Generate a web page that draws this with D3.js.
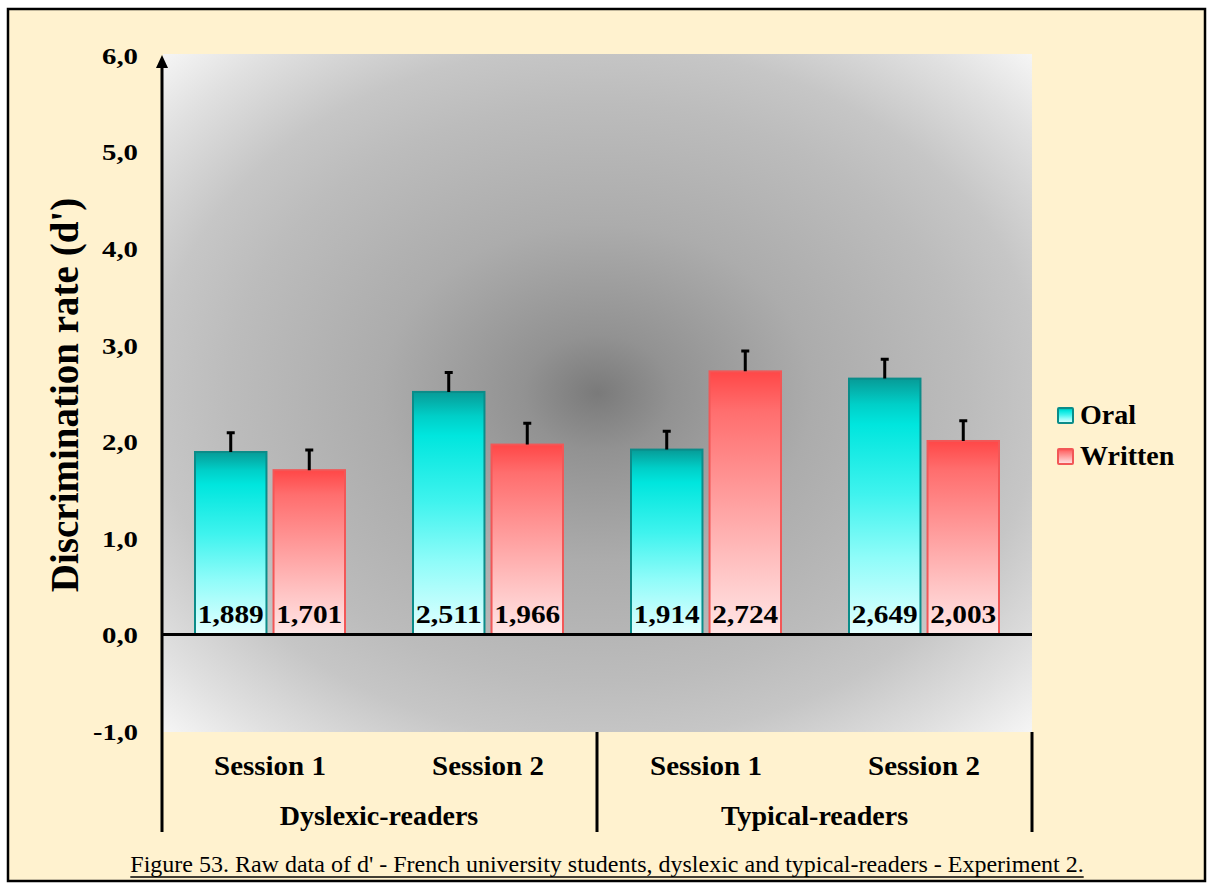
<!DOCTYPE html>
<html>
<head>
<meta charset="utf-8">
<script src="https://cdn.jsdelivr.net/npm/d3@7"></script>
<style>
  html, body { margin: 0; padding: 0; background: #ffffff; }
  svg { display: block; }
  text { font-family: "Liberation Serif", "Times New Roman", serif; }
</style>
</head>
<body>
<svg id="chart" width="1213" height="889"></svg>
<script>
// ---- data ----
const sessions = ["Session 1", "Session 2", "Session 1", "Session 2"];
const groups = ["Dyslexic-readers", "Typical-readers"];
const seriesNames = ["Oral", "Written"];
const oralValues = [1.889, 2.511, 1.914, 2.649];
const writtenValues = [1.701, 1.966, 2.724, 2.003];
const oralErrors = [0.20, 0.20, 0.19, 0.20];
const writtenErrors = [0.21, 0.22, 0.21, 0.21];
const yTicks = [-1, 0, 1, 2, 3, 4, 5, 6];
const yTitle = "Discrimination rate (d')";
const caption = "Figure 53. Raw data of d' - French university students, dyslexic and typical-readers - Experiment 2.";

const svg = d3.select("#chart");

// background + frame
svg.append("rect").attr("x", 8).attr("y", 9).attr("width", 1197).attr("height", 872)
  .attr("fill", "#fff2cf").attr("stroke", "#000").attr("stroke-width", 2.5);

const plot = { left: 162, right: 1032, top: 55, bottom: 731 };

const y = d3.scaleLinear().domain([-1, 6]).range([plot.bottom, plot.top]);
const x0 = d3.scaleBand().domain(d3.range(sessions.length)).range([161, 1033]).padding(0);
const x1 = d3.scaleBand().domain(seriesNames).range([-75, 75]).paddingInner(0.09);

const defs = svg.append("defs");
const bg = defs.append("radialGradient").attr("id", "bgGrad")
  .attr("cx", "50%").attr("cy", "50%").attr("r", "71%");
[[0, "#7a7a7a"], [0.12, "#929292"], [0.35, "#acacac"], [0.6, "#bcbcbc"], [0.72, "#c6c6c6"], [0.88, "#e0e0e0"], [1, "#f6f6f6"]]
  .forEach(s => bg.append("stop").attr("offset", s[0]).attr("stop-color", s[1]));

const gOral = defs.append("linearGradient").attr("id", "gOral").attr("x1", 0).attr("y1", 0).attr("x2", 0).attr("y2", 1);
[[0, "#079b97"], [0.1, "#00cfc8"], [0.18, "#00e6de"], [0.45, "#3ff3ee"], [0.7, "#8ffcf9"], [1, "#e4ffff"]]
  .forEach(s => gOral.append("stop").attr("offset", s[0]).attr("stop-color", s[1]));
const gWritten = defs.append("linearGradient").attr("id", "gWritten").attr("x1", 0).attr("y1", 0).attr("x2", 0).attr("y2", 1);
[[0, "#ff4747"], [0.15, "#ff6e6e"], [0.45, "#ff9999"], [0.75, "#ffc4c4"], [1, "#ffe6e6"]]
  .forEach(s => gWritten.append("stop").attr("offset", s[0]).attr("stop-color", s[1]));

const fills = { Oral: "url(#gOral)", Written: "url(#gWritten)" };
const strokes = { Oral: "#0b8c89", Written: "#f25757" };

// plot background
svg.append("rect").attr("x", plot.left + 1).attr("y", 54)
  .attr("width", plot.right - plot.left - 1).attr("height", 732 - 54)
  .attr("fill", "url(#bgGrad)");

// data rows
const rows = sessions.map((s, i) => ({
  i, session: s,
  vals: [
    { key: "Oral", v: oralValues[i], e: oralErrors[i] },
    { key: "Written", v: writtenValues[i], e: writtenErrors[i] }
  ]
}));

const gBars = svg.append("g");
const grp = gBars.selectAll("g.grp").data(rows).join("g")
  .attr("class", "grp")
  .attr("transform", d => `translate(${x0(d.i) + x0.bandwidth() / 2},0)`);

grp.selectAll("rect").data(d => d.vals).join("rect")
  .attr("x", d => x1(d.key))
  .attr("width", x1.bandwidth())
  .attr("y", d => y(d.v))
  .attr("height", d => y(0) - y(d.v))
  .attr("fill", d => fills[d.key])
  .attr("stroke", d => strokes[d.key])
  .attr("stroke-width", 2);

// error bars
grp.selectAll("path.err").data(d => d.vals).join("path")
  .attr("class", "err")
  .attr("d", d => {
    const cx = x1(d.key) + x1.bandwidth() / 2;
    const y0 = y(d.v), y1 = y(d.v + d.e);
    return `M${cx},${y0}V${y1}M${cx - 4},${y1}H${cx + 4}`;
  })
  .attr("stroke", "#000").attr("stroke-width", 3).attr("fill", "none");

// value labels
grp.selectAll("text.val").data(d => d.vals).join("text")
  .attr("class", "val")
  .attr("x", d => x1(d.key) + x1.bandwidth() / 2)
  .attr("y", y(0) - 11)
  .attr("text-anchor", "middle")
  .attr("font-size", 26).attr("font-weight", "bold").attr("fill", "#000")
  .attr("textLength", 66).attr("lengthAdjust", "spacingAndGlyphs")
  .text(d => d3.format(".3f")(d.v).replace(".", ","));

// zero line
svg.append("line").attr("x1", plot.left).attr("x2", plot.right)
  .attr("y1", y(0)).attr("y2", y(0)).attr("stroke", "#000").attr("stroke-width", 3);

// y axis line + arrow
svg.append("line").attr("x1", plot.left).attr("x2", plot.left)
  .attr("y1", y(6) + 8).attr("y2", 832).attr("stroke", "#000").attr("stroke-width", 3);
svg.append("path")
  .attr("d", `M${plot.left},${y(6)}L${plot.left - 6},${y(6) + 13}L${plot.left + 6},${y(6) + 13}Z`)
  .attr("fill", "#000");

// y tick labels via axis generator
const yAxis = d3.axisLeft(y).tickValues(yTicks).tickSize(0).tickPadding(0)
  .tickFormat(d => d3.format(".1f")(d).replace(".", ",").replace("−", "-"));
const gy = svg.append("g").attr("transform", `translate(138,0)`).call(yAxis);
gy.select(".domain").remove();
gy.selectAll("text")
  .style("font-family", "Liberation Serif, Times New Roman, serif")
  .style("font-size", "24px").style("font-weight", "bold").attr("fill", "#000")
  .attr("dy", "0.35em")
  .attr("textLength", d => d < 0 ? 45 : 36).attr("lengthAdjust", "spacingAndGlyphs");

// y title
svg.append("text")
  .attr("transform", `translate(78,${(193 + 597) / 2}) rotate(-90)`)
  .attr("text-anchor", "middle")
  .attr("font-size", 39).attr("font-weight", "bold").attr("fill", "#000")
  .text(yTitle);

// category dividers
[597, 1032].forEach(xx => {
  svg.append("line").attr("x1", xx).attr("x2", xx).attr("y1", 732).attr("y2", 832)
    .attr("stroke", "#000").attr("stroke-width", 3);
});

// session labels
svg.append("g").selectAll("text").data(sessions).join("text")
  .attr("x", (d, i) => x0(i) + x0.bandwidth() / 2)
  .attr("y", 775)
  .attr("text-anchor", "middle")
  .attr("font-size", 28).attr("font-weight", "bold").attr("fill", "#000")
  .attr("textLength", 112).attr("lengthAdjust", "spacingAndGlyphs")
  .text(d => d);

// group labels
const groupCenters = [(161 + 597) / 2, (597 + 1032) / 2];
svg.append("g").selectAll("text").data(groups).join("text")
  .attr("x", (d, i) => groupCenters[i])
  .attr("y", 825)
  .attr("text-anchor", "middle")
  .attr("font-size", 28).attr("font-weight", "bold").attr("fill", "#000")
  .text(d => d);

// legend
const leg = svg.append("g").attr("transform", "translate(1058,0)");
const legY = [408, 449];
seriesNames.forEach((n, i) => {
  leg.append("rect").attr("x", 0).attr("y", legY[i]).attr("width", 15).attr("height", 15)
    .attr("fill", fills[n]).attr("stroke", strokes[n]).attr("stroke-width", 2).attr("rx", 1);
  leg.append("text").attr("x", 22).attr("y", legY[i] + 16)
    .attr("font-size", 28).attr("font-weight", "bold").attr("fill", "#000")
    .text(n);
});

// caption
const cap = svg.append("text")
  .attr("x", 607).attr("y", 872)
  .attr("text-anchor", "middle")
  .attr("font-size", 24).attr("fill", "#000")
  .text(caption);
const cl = cap.node().getComputedTextLength();
svg.append("line").attr("x1", 607 - cl / 2).attr("x2", 607 + cl / 2)
  .attr("y1", 877).attr("y2", 877).attr("stroke", "#000").attr("stroke-width", 1.5);
</script>
</body>
</html>
